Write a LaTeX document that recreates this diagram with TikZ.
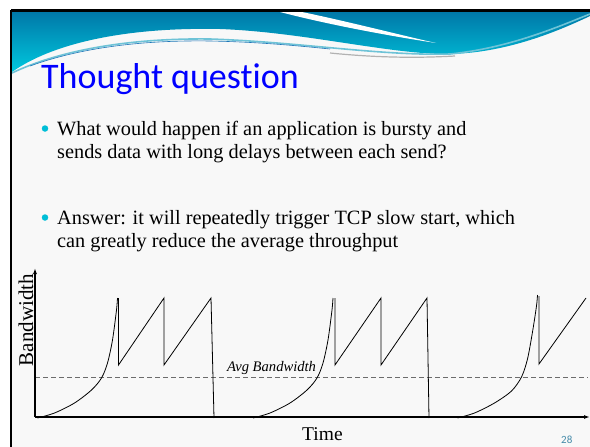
\documentclass[tikz,border=0pt]{standalone}
\usepackage{fontspec}
\setmainfont{Liberation Serif}
\newfontfamily\titlefont{Carlito}[Ligatures=NoCommon]
\usetikzlibrary{arrows.meta}
\definecolor{slidebg}{RGB}{248,248,248}
\definecolor{headtop}{RGB}{0,120,168}
\definecolor{headbot}{RGB}{0,200,222}
\definecolor{swirl}{RGB}{110,195,215}
\definecolor{swirldark}{RGB}{30,120,185}
\definecolor{bulletcyan}{RGB}{0,190,215}
\definecolor{pagenum}{RGB}{70,140,170}
\begin{document}
\begin{tikzpicture}[x=1pt, y=-1pt, >=Stealth, axis/.style={line width=1.6pt, -{Latex[length=6pt,width=4pt]}}, curve/.style={line width=0.8pt, line join=miter}, avg/.style={dashed, line width=0.9pt, gray!85!black, dash pattern=on 5pt off 3pt}, bodytext/.style={anchor=base west, inner sep=0pt, font=\fontsize{20.3}{23}\selectfont}, dot/.style={circle, fill=bulletcyan, inner sep=0pt, minimum size=6.5pt}]
\useasboundingbox (0,0) rectangle (590,447);
\fill[white] (0,0) rectangle (590,447);
\fill[slidebg] (12,12) rectangle (590,447);
\shade[top color=headtop, bottom color=headbot] (12,12) -- (590,12) -- (590,16) .. controls (540,40) and (490,55) .. (440,54) .. controls (380,52) and (300,32) .. (220,29) .. controls (120,27) and (50,45) .. (12,72) -- cycle;
\fill[white] (280,12) .. controls (330,25) and (390,36) .. (436,43) .. controls (400,35) and (350,22) .. (302,12) -- cycle;
\draw[swirl, line width=1.6pt] (12,73) .. controls (60,50) and (130,38) .. (210,39) .. controls (300,42) and (380,56) .. (450,54) .. controls (510,48) and (560,26) .. (590,14);
\draw[swirldark, line width=0.6pt] (30,66) .. controls (80,48) and (140,40) .. (210,41) .. controls (260,42) and (300,46) .. (330,49);
\draw[gray!60, line width=1.2pt] (330,53) .. controls (380,58) and (420,58) .. (455,56);
\draw[black, line width=2.5pt] (11,10.5) -- (590,10.5);
\draw[black, line width=2.5pt] (11,9.5) -- (11,447);
\node[anchor=base west, inner sep=0pt, text=blue, font=\titlefont\fontsize{36}{40}\selectfont] (title) at (41,88) {Thought question};
\node[dot] (b1) at (45,128.5) {};
\node[bodytext] (q1a) at (57,135) {What would happen if an application is bursty and};
\node[bodytext] (q1b) at (57,158) {sends data with long delays between each send?};
\node[dot] (b2) at (45,217.5) {};
\node[bodytext] (q2a) at (57,224) {Answer: it will repeatedly trigger TCP slow start, which};
\node[bodytext] (q2b) at (57,247) {can greatly reduce the average throughput};
\coordinate (o) at (35,417);
\coordinate (ytop) at (35,268);
\coordinate (xend) at (590,417);
\coordinate (avgl) at (35,377);
\coordinate (avgr) at (588,377);
\draw[avg] (avgl) -- (avgr);
\draw[curve] plot[smooth] coordinates {(37.5,418) (54.5,413) (74.5,403) (91.5,390) (101.5,378) (107.5,363) (112.5,340) (116.5,310) (117.5,298)};
\draw[curve] (118.5,298) -- (118.5,365) -- (164,298) -- (164,365) -- (211,298) -- (214,418);
\draw[curve] plot[smooth] coordinates {(253,418) (270,413) (290,403) (307,390) (317,378) (323,363) (328,340) (332,310) (333,298)};
\draw[curve] (335,298) -- (335,365) -- (381,298) -- (381,365) -- (427,298) -- (429,418);
\draw[curve] plot[smooth] coordinates {(457.5,418) (474.5,413) (494.5,403) (511.5,391) (521.5,377) (527.5,359) (532.5,332) (536.5,306) (537.5,295)};
\draw[curve] (539,296) -- (539,364) -- (586,298);
\draw[axis] (o) -- (ytop);
\draw[axis] (o) -- (xend);
\node[anchor=base west, inner sep=0pt, font=\itshape\fontsize{14.6}{16}\selectfont] (avglabel) at (227,371.5) {Avg Bandwidth};
\node[rotate=90, anchor=base, inner sep=0pt, font=\fontsize{21}{24}\selectfont] (ylabel) at (33,320) {Bandwidth};
\node[anchor=base west, inner sep=0pt, font=\fontsize{19.5}{22}\selectfont] (xlabel) at (302,440) {Time};
\node[anchor=base west, inner sep=0pt, text=pagenum, font=\titlefont\fontsize{11}{12}\selectfont] (page) at (561,443) {28};
\end{tikzpicture}
\end{document}
